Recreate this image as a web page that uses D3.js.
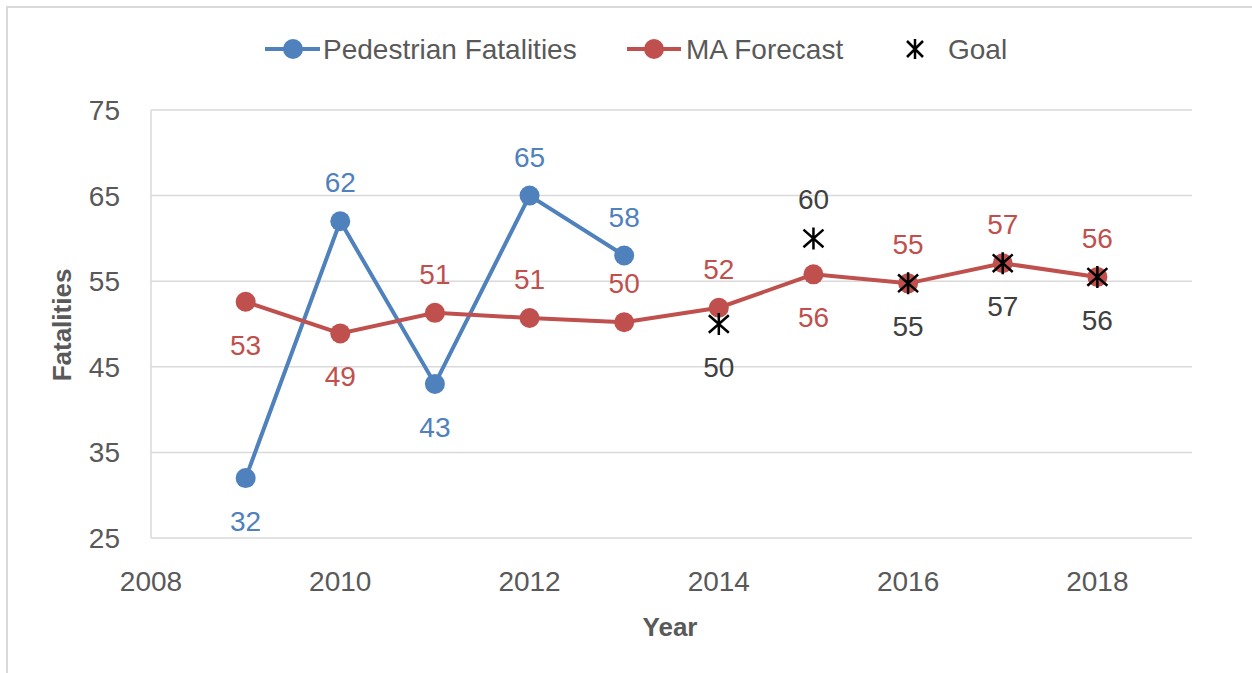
<!DOCTYPE html>
<html>
<head>
<meta charset="utf-8">
<script src="https://cdn.jsdelivr.net/npm/d3@7"></script>
<style>
  body { margin: 0; background: #fff; }
  svg text { font-family: "Liberation Sans", Arial, sans-serif; }
</style>
</head>
<body>
<div id="chart"></div>
<script>
// values
var years = [2009, 2010, 2011, 2012, 2013, 2014, 2015, 2016, 2017, 2018];
var pedYears = [2009, 2010, 2011, 2012, 2013];
var pedValues = [32, 62, 43, 65, 58];
var maValues = [52.6, 48.9, 51.3, 50.7, 50.2, 51.9, 55.8, 54.75, 57.1, 55.5];
var goalYears = [2014, 2015, 2016, 2017, 2018];
var goalValues = [50, 60, 54.75, 57.1, 55.5];
var yTicks = [25, 35, 45, 55, 65, 75];
var xTicks = [2008, 2010, 2012, 2014, 2016, 2018];

// label placement: 1 = above, -1 = below
var pedPos = [-1, 1, -1, 1, 1];
var maPos = [-1, -1, 1, 1, 1, 1, -1, 1, 1, 1];
var goalPos = [-1, 1, -1, -1, -1];

var W = 1252, H = 673;
var blue = "#4f81bd", red = "#c0504d";

var svg = d3.select("#chart").append("svg")
    .attr("width", W)
    .attr("height", H)

// outer frame
svg.append("rect")
    .attr("x", 7).attr("y", 7)
    .attr("width", W).attr("height", H)
    .attr("fill", "none")
    .attr("stroke", "#d9d9d9")
    .attr("stroke-width", 2)

var x = d3.scaleLinear().domain([2008, 2019]).range([151, 1192]);
var y = d3.scaleLinear().domain([25, 75]).range([538, 110]);

// grid
svg.append("g").selectAll("line").data(yTicks).enter().append("line")
    .attr("x1", x(2008)).attr("x2", x(2019))
    .attr("y1", function(d) { return y(d); })
    .attr("y2", function(d) { return y(d); })
    .attr("stroke", "#d9d9d9")
    .attr("stroke-width", 1.5)
svg.append("line")
    .attr("x1", x(2008)).attr("x2", x(2008))
    .attr("y1", y(75)).attr("y2", y(25))
    .attr("stroke", "#d9d9d9")
    .attr("stroke-width", 1.5)

// y tick labels
svg.append("g").selectAll("text").data(yTicks).enter().append("text")
    .attr("x", 120)
    .attr("y", function(d) { return y(d); })
    .attr("dy", "0.36em")
    .attr("text-anchor", "end")
    .attr("font-size", 28)
    .attr("fill", "#595959")
    .text(function(d) { return d; })

// x tick labels
svg.append("g").selectAll("text").data(xTicks).enter().append("text")
    .attr("x", function(d) { return x(d); })
    .attr("y", 581)
    .attr("dy", "0.36em")
    .attr("text-anchor", "middle")
    .attr("font-size", 28)
    .attr("fill", "#595959")
    .text(function(d) { return d; })

// axis titles
svg.append("text")
    .attr("x", 670).attr("y", 627)
    .attr("dy", "0.36em")
    .attr("text-anchor", "middle")
    .attr("font-size", 26)
    .attr("font-weight", "bold")
    .attr("fill", "#595959")
    .text("Year")
svg.append("text")
    .attr("transform", "translate(62,325) rotate(-90)")
    .attr("dy", "0.36em")
    .attr("text-anchor", "middle")
    .attr("font-size", 26)
    .attr("font-weight", "bold")
    .attr("fill", "#595959")
    .text("Fatalities")

var line = d3.line()
    .x(function(d) { return x(d[0]); })
    .y(function(d) { return y(d[1]); });

var ped = d3.zip(pedYears, pedValues);
var ma = d3.zip(years, maValues);
var goal = d3.zip(goalYears, goalValues);

svg.append("path").datum(ped)
    .attr("d", line)
    .attr("fill", "none")
    .attr("stroke", blue)
    .attr("stroke-width", 4)
svg.append("path").datum(ma)
    .attr("d", line)
    .attr("fill", "none")
    .attr("stroke", red)
    .attr("stroke-width", 4)

svg.append("g").selectAll("circle").data(ped).enter().append("circle")
    .attr("cx", function(d) { return x(d[0]); })
    .attr("cy", function(d) { return y(d[1]); })
    .attr("r", 10)
    .attr("fill", blue)
svg.append("g").selectAll("circle").data(ma).enter().append("circle")
    .attr("cx", function(d) { return x(d[0]); })
    .attr("cy", function(d) { return y(d[1]); })
    .attr("r", 10)
    .attr("fill", red)

// asterisk marker: X plus vertical bar
function star(g, cx, cy, w, h) {
  var p = "M" + (cx - w) + "," + (cy - h * 0.8) + "L" + (cx + w) + "," + (cy + h * 0.8) +
          "M" + (cx + w) + "," + (cy - h * 0.8) + "L" + (cx - w) + "," + (cy + h * 0.8) +
          "M" + cx + "," + (cy - h) + "L" + cx + "," + (cy + h);
  g.append("path").attr("d", p).attr("stroke", "#000").attr("stroke-width", 2.5).attr("fill", "none");
}
var gg = svg.append("g");
goal.forEach(function(d) { star(gg, x(d[0]), y(d[1]), 10, 11); });

// data labels
function labels(data, pos, color) {
  svg.append("g").selectAll("text").data(data).enter().append("text")
      .attr("x", function(d) { return x(d[0]); })
      .attr("y", function(d, i) { return y(d[1]) + (pos[i] > 0 ? -39 : 43); })
      .attr("dy", "0.36em")
      .attr("text-anchor", "middle")
      .attr("font-size", 28)
      .attr("fill", color)
      .text(function(d) { return Math.round(d[1]); })
}
labels(ped, pedPos, blue);
labels(ma, maPos, red);
labels(goal, goalPos, "#404040");

// legend
var leg = svg.append("g");
var ly = 49;
leg.append("line").attr("x1", 265).attr("x2", 320).attr("y1", ly).attr("y2", ly)
    .attr("stroke", blue).attr("stroke-width", 4)
leg.append("circle").attr("cx", 293).attr("cy", ly).attr("r", 10).attr("fill", blue)
leg.append("text").attr("x", 323).attr("y", ly).attr("dy", "0.36em")
    .attr("font-size", 28).attr("fill", "#595959").text("Pedestrian Fatalities")
leg.append("line").attr("x1", 627).attr("x2", 681).attr("y1", ly).attr("y2", ly)
    .attr("stroke", red).attr("stroke-width", 4)
leg.append("circle").attr("cx", 654).attr("cy", ly).attr("r", 10).attr("fill", red)
leg.append("text").attr("x", 686).attr("y", ly).attr("dy", "0.36em")
    .attr("font-size", 28).attr("fill", "#595959").text("MA Forecast")
star(leg, 915, ly, 8, 10);
leg.append("text").attr("x", 948).attr("y", ly).attr("dy", "0.36em")
    .attr("font-size", 28).attr("fill", "#595959").text("Goal")
</script>
</body>
</html>
